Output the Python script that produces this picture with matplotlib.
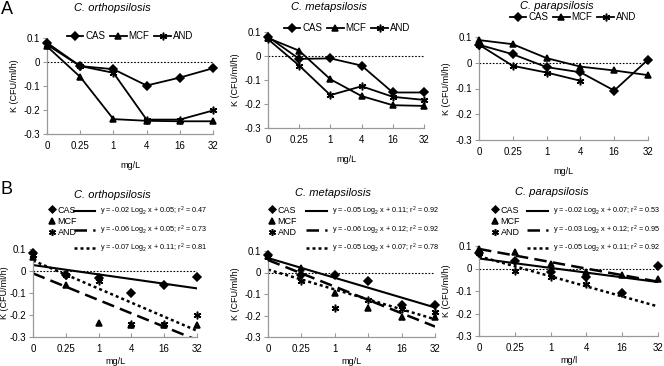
import numpy as np
import matplotlib
matplotlib.use('Agg')
import matplotlib.pyplot as plt
from matplotlib.lines import Line2D

plt.rcParams['font.family'] = ['Liberation Sans', 'DejaVu Sans']
plt.rcParams['mathtext.fontset'] = 'custom'
plt.rcParams['mathtext.rm'] = 'Liberation Sans'
plt.rcParams['mathtext.it'] = 'Liberation Sans:italic'

species = ['C. orthopsilosis', 'C. metapsilosis', 'C. parapsilosis']
conc = ['0', '0.25', '1', '4', '16', '32']
drugs = ['CAS', 'MCF', 'AND']

ortho_cas = [0.08, -0.017, -0.03, -0.098, -0.065, -0.026]
ortho_mcf = [0.065, -0.062, -0.238, -0.245, -0.247, -0.247]
ortho_and = [0.072, -0.017, -0.045, -0.24, -0.24, -0.202]

meta_cas = [0.08, -0.012, -0.01, -0.04, -0.152, -0.152]
meta_mcf = [0.075, 0.022, -0.097, -0.167, -0.205, -0.208]
meta_and = [0.07, -0.04, -0.163, -0.126, -0.17, -0.183]

para_cas = [0.07, 0.033, -0.017, -0.037, -0.108, 0.012]
para_mcf = [0.088, 0.072, 0.018, -0.015, -0.03, -0.048]
para_and = [0.07, -0.012, -0.038, -0.07]

data = [
    [ortho_cas, ortho_mcf, ortho_and],
    [meta_cas, meta_mcf, meta_and],
    [para_cas, para_mcf, para_and],
]

eq_ortho = ['y = -0.02 Log$_2$ x + 0.05; r$^2$ = 0.47',
            'y = -0.06 Log$_2$ x + 0.05; r$^2$ = 0.73',
            'y = -0.07 Log$_2$ x + 0.11; r$^2$ = 0.81']
eq_meta = ['y = -0.05 Log$_2$ x + 0.11; r$^2$ = 0.92',
           'y = -0.06 Log$_2$ x + 0.12; r$^2$ = 0.92',
           'y = -0.05 Log$_2$ x + 0.07; r$^2$ = 0.78']
eq_para = ['y = -0.02 Log$_2$ x + 0.07; r$^2$ = 0.53',
           'y = -0.03 Log$_2$ x + 0.12; r$^2$ = 0.95',
           'y = -0.05 Log$_2$ x + 0.11; r$^2$ = 0.92']
equations = [eq_ortho, eq_meta, eq_para]
xlabels_b = ['mg/L', 'mg/L', 'mg/l']

W, H = 664, 366
fig = plt.figure(figsize=(W / 100, H / 100), dpi=100)


def px(x, y):
    return x / W, 1 - y / H


def box(x0, y0, x1, y1):
    return [x0 / W, 1 - y1 / H, (x1 - x0) / W, (y1 - y0) / H]


markers = ['D', '^', (6, 2, 0)]
msizes = [4, 5, 5.5]
trend_styles = ['-', (0, (5, 2.5)), (0, (1.2, 1.2))]
trend_widths = [1.5, 1.8, 1.8]

boxes_a = [box(47, 38, 213, 134), box(268, 32, 424, 128), box(479, 37, 648, 140)]
boxes_b = [box(33, 249, 197, 337), box(268, 251, 435, 337), box(479, 246, 658, 336)]
titles_a = [(112, 8), (329, 7), (557, 6)]
titles_b = [(112, 195), (333, 193), (552, 192)]
legend_a = [(130, 36), (347, 28), (573, 17)]
legend_b = [(44, 201), (264, 201), (487, 201)]
legend_b_eq = [(70, 201), (302, 201), (523, 201)]
ylabel_pad_b = [0, 3, 3]


def style_axes(ax):
    x = np.arange(len(conc))
    ax.set_xlim(0, len(conc) - 1)
    ax.set_ylim(-0.3, 0.1)
    ax.set_xticks(x)
    ax.set_xticklabels(conc)
    ax.set_yticks([-0.3, -0.2, -0.1, 0, 0.1])
    ax.set_yticklabels(['-0.3', '-0.2', '-0.1', '0', '0.1'])
    for s in ['top', 'right']:
        ax.spines[s].set_visible(False)
    for s in ['left', 'bottom']:
        ax.spines[s].set_color('#999999')
        ax.spines[s].set_linewidth(0.9)
    ax.tick_params(axis='x', direction='in', length=3, color='#999999', labelsize=7, pad=5)
    ax.tick_params(axis='y', direction='out', length=3, color='#999999', labelsize=7, pad=2)
    ax.axhline(0, color='black', lw=0.8, ls=(0, (1.5, 1.5)), zorder=1)
    ax.set_facecolor('none')


# Panel A
for k in range(3):
    ax = fig.add_axes(boxes_a[k])
    style_axes(ax)
    handles = []
    for d in range(3):
        y = data[k][d]
        x = np.arange(len(y))
        h, = ax.plot(x, y, color='black', lw=1.3, marker=markers[d], ms=msizes[d],
                     mew=1.1, clip_on=False, zorder=3)
        handles.append(h)
    ax.set_xlabel('mg/L', fontsize=6.5, labelpad=7)
    ax.set_ylabel('K (CFU/ml/h)', fontsize=6.5, labelpad=3)
    fig.text(*px(*titles_a[k]), species[k], fontsize=8, style='italic', ha='center', va='center')
    fig.legend(handles, drugs, loc='center', bbox_to_anchor=px(*legend_a[k]), ncol=3,
               frameon=False, fontsize=7, handlelength=1.7, handletextpad=0.2,
               columnspacing=0.5, borderpad=0)

# Panel B
for k in range(3):
    ax = fig.add_axes(boxes_b[k])
    style_axes(ax)
    mk_handles = []
    ln_handles = []
    for d in range(3):
        y = np.array(data[k][d])
        x = np.arange(len(y))
        ax.plot(x, y, ls='none', color='black', marker=markers[d], ms=msizes[d],
                mew=1.1, clip_on=False, zorder=3)
        slope, icpt = np.polyfit(x, y, 1)
        xx = np.array([0, len(conc) - 1])
        ax.plot(xx, slope * xx + icpt, color='black', ls=trend_styles[d],
                lw=trend_widths[d], zorder=2)
        mk_handles.append(Line2D([], [], ls='none', color='black', marker=markers[d],
                                 ms=msizes[d] - 0.5, mew=1.1))
        ln_handles.append(Line2D([], [], color='black', ls=trend_styles[d], lw=trend_widths[d]))
    ax.set_xlabel(xlabels_b[k], fontsize=6.5, labelpad=2)
    ax.set_ylabel('K (CFU/ml/h)', fontsize=6.5, labelpad=ylabel_pad_b[k])
    fig.text(*px(*titles_b[k]), species[k], fontsize=8, style='italic', ha='center', va='center')
    fig.legend(mk_handles, drugs, loc='upper left', bbox_to_anchor=px(*legend_b[k]),
               frameon=False, fontsize=6.5, handlelength=0.8, handletextpad=0.2,
               labelspacing=0.25, borderpad=0)
    fig.legend(ln_handles, equations[k], loc='upper left', bbox_to_anchor=px(*legend_b_eq[k]),
               frameon=False, fontsize=5.2, handlelength=3.0, handletextpad=0.6,
               labelspacing=0.75, borderpad=0)

fig.text(*px(7, 10), 'A', fontsize=13, ha='center', va='center')
fig.text(*px(6, 190), 'B', fontsize=13, ha='center', va='center')

plt.savefig('out.png', dpi=100)
plt.close()
